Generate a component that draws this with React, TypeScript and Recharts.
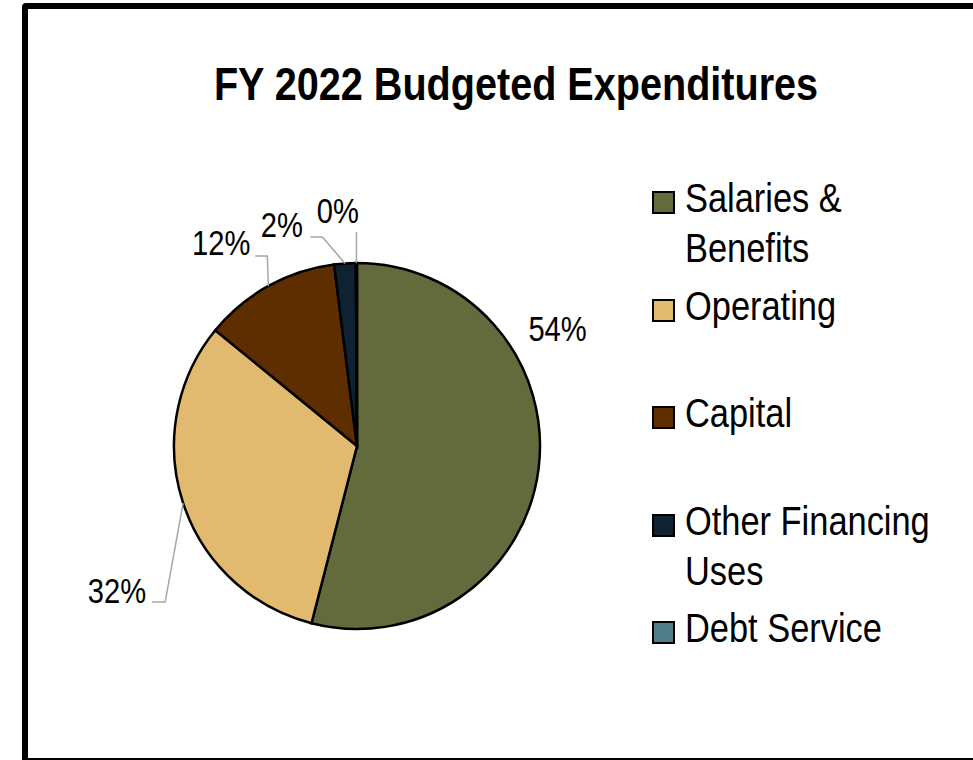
import React from 'react';
import { PieChart, Pie, Cell, Legend } from 'recharts';

const CATEGORIES = ['Salaries & Benefits', 'Operating', 'Capital', 'Other Financing Uses', 'Debt Service'];
const VALUES = [54.0, 31.9, 12.1, 1.9, 0.1];
const COLORS = ['#636A3C', '#E2BA6F', '#5E2D00', '#0F2232', '#507D88'];

const TITLE = 'FY 2022 Budgeted Expenditures';
const FONT = '"Liberation Sans", Arial, sans-serif';

const data = CATEGORIES.map((name, i) => ({ name, value: VALUES[i] }));

// label placement relative to the slice's outer edge point (layout only)
type LabelLayout = { line: number[][]; text: number[]; anchor: 'start' | 'middle' | 'end' };
const LABEL_LAYOUT: LabelLayout[] = [
  { line: [], text: [19, -128], anchor: 'middle' },
  { line: [[-18, 99], [-31, 99]], text: [-37, 100], anchor: 'end' },
  { line: [[-1, -30], [-13, -30]], text: [-18, -31], anchor: 'end' },
  { line: [[-22.5, -26.4], [-34.5, -26.4]], text: [-42, -26], anchor: 'end' },
  { line: [[0, -31]], text: [-18.5, -40], anchor: 'middle' },
];

const RAD = Math.PI / 180;
const LABEL_SCALE = 0.81;

const renderLabel = (props: any) => {
  const { cx, cy, midAngle, outerRadius, percent, index } = props;
  const ex = cx + outerRadius * Math.cos(-midAngle * RAD);
  const ey = cy + outerRadius * Math.sin(-midAngle * RAD);
  const lay = LABEL_LAYOUT[index];
  const pts = [[ex, ey], ...lay.line.map(([dx, dy]) => [ex + dx, ey + dy])];
  return (
    <g key={`lbl-${index}`}>
      {lay.line.length > 0 && (
        <polyline
          points={pts.map((p) => p.join(',')).join(' ')}
          fill="none"
          stroke="#A6A6A6"
          strokeWidth={1.5}
        />
      )}
      <g transform={`translate(${ex + lay.text[0]},${ey + lay.text[1]}) scale(${LABEL_SCALE},1)`}>
        <text x={0} y={0} textAnchor={lay.anchor} fontFamily={FONT} fontSize={36} fill="#000">
          {`${Math.round(percent * 100)}%`}
        </text>
      </g>
    </g>
  );
};

const renderLegend = (props: any) => {
  const payload = [...(props.payload || [])].sort(
    (a: any, b: any) => CATEGORIES.indexOf(a.value) - CATEGORIES.indexOf(b.value)
  );
  return (
    <div style={{ fontFamily: FONT, fontSize: 40, lineHeight: '50px', color: '#000' }}>
      {payload.map((entry: any, i: number) => {
        const idx = CATEGORIES.indexOf(entry.value);
        return (
          <div key={i} style={{ position: 'relative', height: 107.5, paddingLeft: 33 }}>
            <div
              style={{
                position: 'absolute',
                left: 0,
                top: 18,
                width: 23,
                height: 23,
                boxSizing: 'border-box',
                border: '2px solid #000',
                background: COLORS[idx >= 0 ? idx : i],
              }}
            />
            <div style={{ width: 320, transform: 'scaleX(0.86)', transformOrigin: '0 0' }}>{entry.value}</div>
          </div>
        );
      })}
    </div>
  );
};

export default function App() {
  return (
    <div
      style={{
        position: 'fixed',
        left: 0,
        top: 0,
        width: 973,
        height: 760,
        overflow: 'hidden',
        background: '#fff',
      }}
    >
      <div
        style={{
          position: 'absolute',
          left: 22,
          top: 3,
          width: 1000,
          height: 761,
          boxSizing: 'border-box',
          border: '6px solid #000',
          borderRadius: 4,
        }}
      />
      <div
        style={{
          position: 'absolute',
          left: 16,
          width: 1000,
          top: 62,
          textAlign: 'center',
          fontFamily: FONT,
          fontWeight: 'bold',
          fontSize: 45.5,
          lineHeight: '46px',
          color: '#000',
          transform: 'scaleX(0.87)',
          transformOrigin: '50% 0',
          whiteSpace: 'nowrap',
        }}
      >
        {TITLE}
      </div>
      <div style={{ position: 'absolute', left: 0, top: 0 }}>
        <PieChart width={973} height={760} margin={{ top: 0, right: 0, bottom: 0, left: 0 }}>
          <Pie
            data={data}
            dataKey="value"
            nameKey="name"
            cx={357}
            cy={446}
            outerRadius={183}
            startAngle={90}
            endAngle={-270}
            stroke="#000"
            strokeWidth={2.5}
            isAnimationActive={false}
            label={renderLabel}
            labelLine={false}
          >
            {data.map((d, i) => (
              <Cell key={d.name} fill={COLORS[i]} />
            ))}
          </Pie>
          <Legend
            content={renderLegend}
            layout="vertical"
            align="right"
            verticalAlign="top"
            wrapperStyle={{ position: 'absolute', left: 652, top: 173, width: 310 }}
          />
        </PieChart>
      </div>
    </div>
  );
}
